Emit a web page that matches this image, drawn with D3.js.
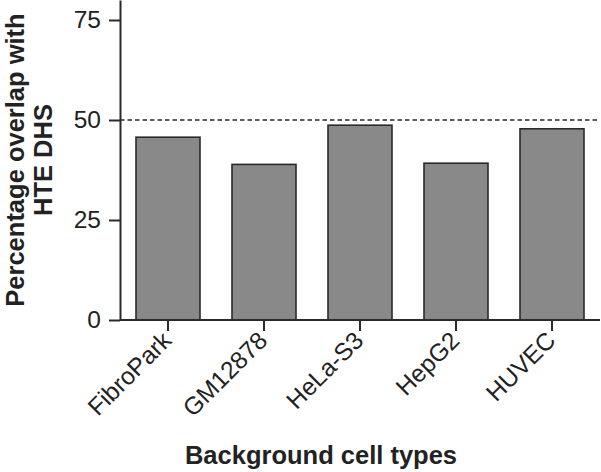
<!DOCTYPE html>
<html>
<head>
<meta charset="utf-8">
<script src="https://cdn.jsdelivr.net/npm/d3@7"></script>
<style>
  html, body { margin: 0; padding: 0; background: #fff; }
  svg { display: block; }
  text { font-family: "Liberation Sans", Arial, Helvetica, sans-serif; fill: #222; }
</style>
</head>
<body>
<svg id="chart" width="601" height="472"></svg>
<script>
const categories = ["FibroPark", "GM12878", "HeLa-S3", "HepG2", "HUVEC"];
const values = [45.7, 38.9, 48.7, 39.2, 47.8];
const yTicks = [0, 25, 50, 75];
const refLine = 50;
const xTitle = "Background cell types";
const yTitleLines = ["Percentage overlap with", "HTE DHS"];

(function () {
const svg = d3.select("#chart");
const mLeft = 120, mRight = 600, mTop = 0, mBottom = 320;

const x = d3.scaleBand().domain(categories).range([mLeft, mRight]).paddingInner(1/3).paddingOuter(1/6);
const y = d3.scaleLinear().domain([0, 80]).range([mBottom, mTop]);

// bars
svg.append("g").selectAll("rect").data(categories).join("rect")
  .attr("x", d => x(d))
  .attr("y", (d, i) => y(values[i]))
  .attr("width", x.bandwidth())
  .attr("height", (d, i) => y(0) - y(values[i]))
  .attr("fill", "#898989")
  .attr("stroke", "#2a2a2a")
  .attr("stroke-width", 1.6);

// reference dashed line
svg.append("line")
  .attr("x1", mLeft).attr("x2", mRight)
  .attr("y1", y(refLine)).attr("y2", y(refLine))
  .attr("stroke", "#2a2a2a").attr("stroke-width", 1.7)
  .attr("stroke-dasharray", "4.5,3");

// y axis
const yAxis = svg.append("g").attr("transform", `translate(${mLeft},0)`)
  .call(d3.axisLeft(y).tickValues(yTicks).tickSize(11).tickPadding(8).tickSizeOuter(0));
yAxis.select(".domain").attr("stroke", "#2a2a2a").attr("stroke-width", 2);
yAxis.selectAll(".tick line").attr("stroke", "#2a2a2a").attr("stroke-width", 2);
yAxis.selectAll(".tick text").style("font-size", "24.5px").attr("fill", "#222")
  .style("font-family", "'Liberation Sans', Arial, sans-serif");

// x axis
const xAxis = svg.append("g").attr("transform", `translate(0,${mBottom})`)
  .call(d3.axisBottom(x).tickSize(11).tickSizeOuter(0));
xAxis.select(".domain").attr("stroke", "#2a2a2a").attr("stroke-width", 2)
  .attr("d", `M${mLeft},0H${mRight}`);
xAxis.selectAll(".tick line").attr("stroke", "#2a2a2a").attr("stroke-width", 2);
xAxis.selectAll(".tick text")
  .style("font-size", "24.5px").attr("fill", "#222")
  .style("font-family", "'Liberation Sans', Arial, sans-serif")
  .attr("text-anchor", "end")
  .attr("dy", null)
  .attr("y", 0)
  .attr("transform", "translate(5,22) rotate(-45)");

// x title
svg.append("text")
  .attr("x", 321).attr("y", 464)
  .attr("text-anchor", "middle")
  .style("font-size", "25.5px").style("font-weight", "bold")
  .text(xTitle);

// y title
const yt = svg.append("text")
  .attr("transform", "translate(0,160) rotate(-90)")
  .attr("text-anchor", "middle")
  .style("font-size", "25.5px").style("font-weight", "bold");
yt.append("tspan").attr("x", 0).attr("y", 24).text(yTitleLines[0]);
yt.append("tspan").attr("x", 0).attr("y", 52).text(yTitleLines[1]);
})();
</script>
</body>
</html>
